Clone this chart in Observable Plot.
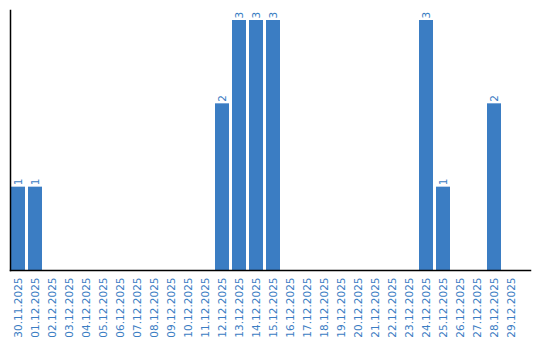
<!DOCTYPE html>
<html>
<head>
<meta charset="utf-8">
<script src="https://cdn.jsdelivr.net/npm/d3@7"></script>
<script src="https://cdn.jsdelivr.net/npm/@observablehq/plot@0.6"></script>
<style>
  html, body { margin: 0; padding: 0; background: #fff; }
</style>
</head>
<body>
<div id="chart"></div>
<script>
const dates = ["30.11.2025","01.12.2025","02.12.2025","03.12.2025","04.12.2025","05.12.2025","06.12.2025","07.12.2025","08.12.2025","09.12.2025","10.12.2025","11.12.2025","12.12.2025","13.12.2025","14.12.2025","15.12.2025","16.12.2025","17.12.2025","18.12.2025","19.12.2025","20.12.2025","21.12.2025","22.12.2025","23.12.2025","24.12.2025","25.12.2025","26.12.2025","27.12.2025","28.12.2025","29.12.2025"];
const counts = [1,1,0,0,0,0,0,0,0,0,0,0,2,3,3,3,0,0,0,0,0,0,0,0,3,1,0,0,2,0];

const data = dates.map((d, i) => ({date: d, count: counts[i]}));
const nonZero = data.filter(d => d.count > 0);
const blue = "#3b7dc3";

const chart = Plot.plot({
  width: 540,
  height: 340,
  marginTop: 10,
  marginBottom: 70,
  marginLeft: 10,
  marginRight: 10,
  style: {fontFamily: "DejaVu Sans", fontSize: "10.5px", background: "#fff"},
  x: {domain: dates, range: [10.7, 518], paddingInner: 0.18, paddingOuter: 0, label: null},
  y: {domain: [0, 3.12], axis: null},
  marks: [
    Plot.barY(data, {x: "date", y: "count", fill: blue}),
    Plot.text(nonZero, {x: "date", y: "count", text: d => String(d.count), rotate: -90, textAnchor: "start", dy: -2, fill: blue, fontSize: 10.5}),
    Plot.axisX({tickSize: 0, tickPadding: 7, tickRotate: -90, fill: blue, label: null}),
    Plot.frame({anchor: "left", stroke: "#000", strokeWidth: 1.5}),
    Plot.frame({anchor: "bottom", stroke: "#000", strokeWidth: 1.5})
  ]
});
document.getElementById("chart").appendChild(chart);
</script>
</body>
</html>
